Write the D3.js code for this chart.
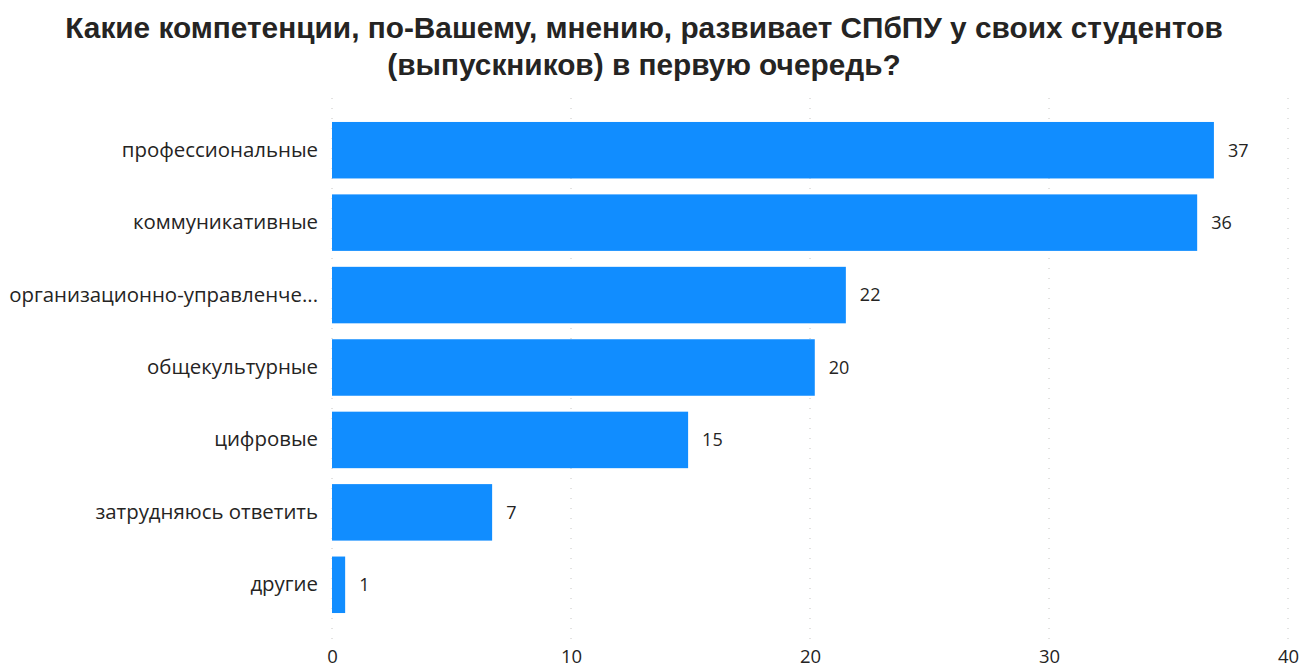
<!DOCTYPE html>
<html>
<head>
<meta charset="utf-8">
<script src="https://cdn.jsdelivr.net/npm/d3@7"></script>
<style>
  body { margin: 0; background: #fff; }
  text { font-family: "Open Sans", "Noto Sans", sans-serif; }
</style>
</head>
<body>
<div id="chart"></div>
<script>
const width = 1302;
const height = 669;

// categories and values (labels show rounded values)
const categories = ["профессиональные", "коммуникативные", "организационно-управленче...", "общекультурные", "цифровые", "затрудняюсь ответить", "другие"];
const values = [36.9, 36.2, 21.5, 20.2, 14.9, 6.7, 0.55];
const ticks = [0, 10, 20, 30, 40];
const titleLines = ["Какие компетенции, по-Вашему, мнению, развивает СПбПУ у своих студентов", "(выпускников) в первую очередь?"];

const svg = d3.select("#chart").append("svg")
    .attr("width", width).attr("height", height);

const x = d3.scaleLinear().domain([0, 40]).range([332, 1288]);
const y = d3.scaleBand().domain(categories).range([114, 621]).paddingInner(0.22).paddingOuter(0.11);

// title
const title = svg.append("g");
titleLines.forEach((t, i) => {
    title.append("text")
        .attr("x", 644).attr("y", 38 + i * 37)
        .attr("text-anchor", "middle")
        .style("font-family", "'Liberation Sans', Arial, sans-serif")
        .style("font-weight", "bold")
        .style("font-size", "29.8px")
        .style("fill", "#252423")
        .text(t);
});

// dotted gridlines
svg.append("g").selectAll("line")
    .data(ticks).enter().append("line")
    .attr("x1", d => x(d)).attr("x2", d => x(d))
    .attr("y1", 98).attr("y2", 644)
    .attr("stroke", "#c8c6c4").attr("stroke-width", 1)
    .attr("stroke-dasharray", "1,9");

// x axis labels
const xAxis = svg.append("g").attr("transform", "translate(0,663)")
    .call(d3.axisBottom(x).tickValues(ticks).tickSize(0).tickPadding(0));
xAxis.select(".domain").remove();
xAxis.selectAll("text")
    .attr("dy", "0")
    .style("font-size", "18.5px")
    .style("fill", "#252423");

// y axis labels
const yAxis = svg.append("g").attr("transform", "translate(318,0)")
    .call(d3.axisLeft(y).tickSize(0).tickPadding(0));
yAxis.select(".domain").remove();
yAxis.selectAll("text")
    .style("font-size", "20.4px")
    .style("fill", "#252423");

// bars
svg.append("g").selectAll("rect")
    .data(values).enter().append("rect")
    .attr("x", x(0))
    .attr("y", (d, i) => y(categories[i]))
    .attr("width", d => x(d) - x(0))
    .attr("height", y.bandwidth())
    .attr("fill", "#118dff");

// value labels
svg.append("g").selectAll("text")
    .data(values).enter().append("text")
    .attr("x", d => x(d) + 14)
    .attr("y", (d, i) => y(categories[i]) + y.bandwidth() / 2)
    .attr("dy", "0.35em")
    .style("font-size", "18px")
    .style("fill", "#252423")
    .text(d => Math.round(d));
</script>
</body>
</html>
